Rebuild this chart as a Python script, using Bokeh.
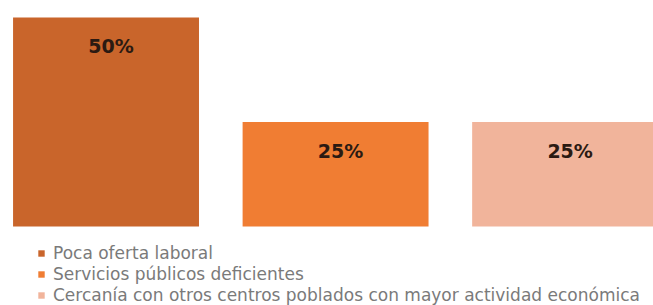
from bokeh.plotting import figure
from bokeh.models import ColumnDataSource, Range1d
from bokeh.core.properties import value
from bokeh.embed import file_html
from bokeh.resources import INLINE

# ---- data ----
categories = [
    "Poca oferta laboral",
    "Servicios públicos deficientes",
    "Cercanía con otros centros poblados con mayor actividad económica",
]
values = [50, 25, 25]
labels = ["50%", "25%", "25%"]
colors = ["#C9652B", "#F07D33", "#F1B49B"]

idx = list(range(len(categories)))
src = ColumnDataSource(dict(x=idx, v=values, cat=categories, lab=labels, col=colors))

W, H = 653, 305
p = figure(width=W, height=H, output_backend="svg", toolbar_location=None,
           x_range=Range1d(-0.4597, 2.385), y_range=Range1d(-18.9, 54.067),
           min_border=0, min_border_left=0, min_border_right=0,
           min_border_top=0, min_border_bottom=0)
p.axis.visible = False
p.grid.visible = False
p.outline_line_color = None
p.background_fill_color = "white"
p.border_fill_color = "white"

r = p.vbar(x="x", top="v", bottom=0, width=0.81, source=src,
           fill_color="col", line_color=None, legend_field="cat")

p.text(x="x", y="v", text="lab", source=src, text_align="center",
       text_baseline="middle", y_offset=29, x_offset=5,
       text_font=value("DejaVu Sans"), text_font_style="bold",
       text_font_size="19px", text_color="#2B1A12")

lg = p.legend[0]
lg.location = (37, 0)
lg.orientation = "vertical"
lg.padding = 0
lg.margin = 0
lg.spacing = 1
lg.glyph_width = 8
lg.glyph_height = 8
lg.label_standoff = 8
lg.label_height = 17
lg.label_text_font = "DejaVu Sans"
lg.label_text_font_size = "17px"
lg.label_text_color = "#7A7A7A"
lg.background_fill_alpha = 0
lg.border_line_color = None

open("out.html", "w").write(file_html(p, INLINE))
